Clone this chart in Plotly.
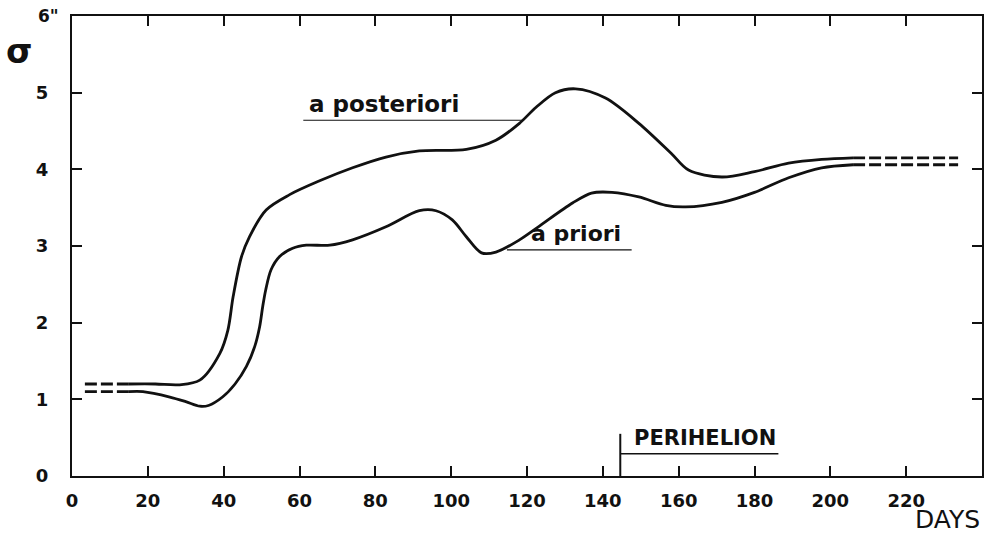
import plotly.graph_objects as go

# ---- data ----
post_days = [15, 22, 28.4, 33.7, 39, 41.1, 42.5, 44.7, 46.8, 51.2, 57.4, 65.3, 74, 82.8,
             91.6, 104, 111.8, 118, 122.4, 127.5, 132.8, 140.7, 149.5, 158, 162.6, 171.4, 180,
             189, 197.7, 206]
post_vals = [1.2, 1.2, 1.19, 1.25, 1.6, 1.9, 2.34, 2.86, 3.12, 3.47, 3.67, 3.85, 4.02, 4.16,
             4.24, 4.26, 4.38, 4.6, 4.81, 5.0, 5.05, 4.93, 4.6, 4.21, 3.99, 3.9, 3.97,
             4.08, 4.13, 4.15]

pri_days = [15, 18.7, 25.8, 30, 33.7, 36, 39.7, 43, 46, 48.2, 49.5, 50.3, 51.1, 52.5, 54.7, 58.2,
            61.8, 68, 74, 82.8, 91.6, 96, 100.3, 104, 108, 111.8, 118, 123, 132, 137, 142.4,
            149.5, 156.6, 161.8, 171.4, 180, 189, 197.7, 206]
pri_vals = [1.1, 1.1, 1.03, 0.97, 0.91, 0.92, 1.03, 1.2, 1.43, 1.69, 1.95, 2.21, 2.43, 2.69, 2.86, 2.97,
            3.01, 3.01, 3.08, 3.25, 3.46, 3.46, 3.34, 3.12, 2.91, 2.92, 3.08, 3.25, 3.56, 3.69, 3.7,
            3.64, 3.53, 3.51, 3.57, 3.7, 3.89, 4.02, 4.06]

post_left_days, post_left_vals = [3.4, 15], [1.2, 1.2]
pri_left_days, pri_left_vals = [3.4, 15], [1.1, 1.1]
post_right_days, post_right_vals = [206, 233.7], [4.15, 4.15]
pri_right_days, pri_right_vals = [206, 233.7], [4.06, 4.06]

x_ticks = [0, 20, 40, 60, 80, 100, 120, 140, 160, 180, 200, 220]
y_ticks = [0, 1, 2, 3, 4, 5, 6]
y_ticktext = ["0", "1", "2", "3", "4", "5", ""]
perihelion_day = 144.6

INK = "#111111"
FONT = "DejaVu Sans"

fig = go.Figure()
solid = dict(color=INK, width=2.8, shape="spline", smoothing=0.9)
dashed = dict(color=INK, width=2.8, dash="12px,4px")

fig.add_trace(go.Scatter(x=post_days, y=post_vals, mode="lines", line=solid, name="a posteriori"))
fig.add_trace(go.Scatter(x=pri_days, y=pri_vals, mode="lines", line=solid, name="a priori"))
for xs, ys in [(post_left_days, post_left_vals), (pri_left_days, pri_left_vals),
               (post_right_days, post_right_vals), (pri_right_days, pri_right_vals)]:
    fig.add_trace(go.Scatter(x=xs, y=ys, mode="lines", line=dashed, showlegend=False))

# leader / underline lines
fig.add_shape(type="line", x0=61, x1=119, y0=4.64, y1=4.64, line=dict(color=INK, width=1.2))
fig.add_shape(type="line", x0=114.7, x1=147.6, y0=2.95, y1=2.95, line=dict(color=INK, width=1.2))
fig.add_shape(type="line", x0=perihelion_day, x1=perihelion_day, y0=0, y1=0.55,
              line=dict(color=INK, width=2))
fig.add_shape(type="line", x0=perihelion_day, x1=186.3, y0=0.29, y1=0.29,
              line=dict(color=INK, width=1.5))

fig.add_annotation(x=62, y=4.66, text="a posteriori", showarrow=False, xanchor="left", yanchor="bottom",
                   font=dict(family=FONT, size=23, color=INK, weight="bold"))
fig.add_annotation(x=120.5, y=2.97, text="a priori", showarrow=False, xanchor="left", yanchor="bottom",
                   font=dict(family=FONT, size=22, color=INK, weight="bold"))
fig.add_annotation(x=147.8, y=0.31, text="PERIHELION", showarrow=False, xanchor="left", yanchor="bottom",
                   font=dict(family=FONT, size=21, color=INK, weight="bold"))

# paper-space labels
fig.add_annotation(xref="paper", yref="paper", x=1.0, y=0, yshift=-43, text="DAYS", showarrow=False,
                   xanchor="right", yanchor="middle", font=dict(family=FONT, size=25, color=INK))
fig.add_annotation(xref="paper", yref="y", x=0, xshift=-36, y=6, text='6"', showarrow=False,
                   xanchor="left", yanchor="middle", font=dict(family=FONT, size=17, color=INK, weight="bold"))
fig.add_annotation(xref="paper", yref="y", x=0, xshift=-68, y=5.55, text="σ", showarrow=False,
                   xanchor="left", yanchor="middle", font=dict(family=FONT, size=34, color=INK, weight="bold"))

axis_common = dict(showgrid=False, zeroline=False, showline=True, linecolor=INK, linewidth=2,
                   mirror="allticks", ticks="inside", ticklen=10, tickwidth=2, tickcolor=INK,
                   tickfont=dict(family=FONT, size=18, color=INK, weight="bold"))

fig.update_layout(
    width=987, height=534,
    margin=dict(l=72, r=3, t=16, b=58),
    paper_bgcolor="white", plot_bgcolor="white",
    showlegend=False,
    xaxis=dict(range=[0, 240], tickvals=x_ticks, ticklabelstandoff=7, **axis_common),
    yaxis=dict(range=[0, 6], tickvals=y_ticks, ticktext=y_ticktext, ticklabelstandoff=18, **axis_common),
)

fig.write_html("out.html", config={"displayModeBar": False},
               post_script="document.body.style.margin='0';document.body.style.padding='0';document.body.style.overflow='hidden';")
